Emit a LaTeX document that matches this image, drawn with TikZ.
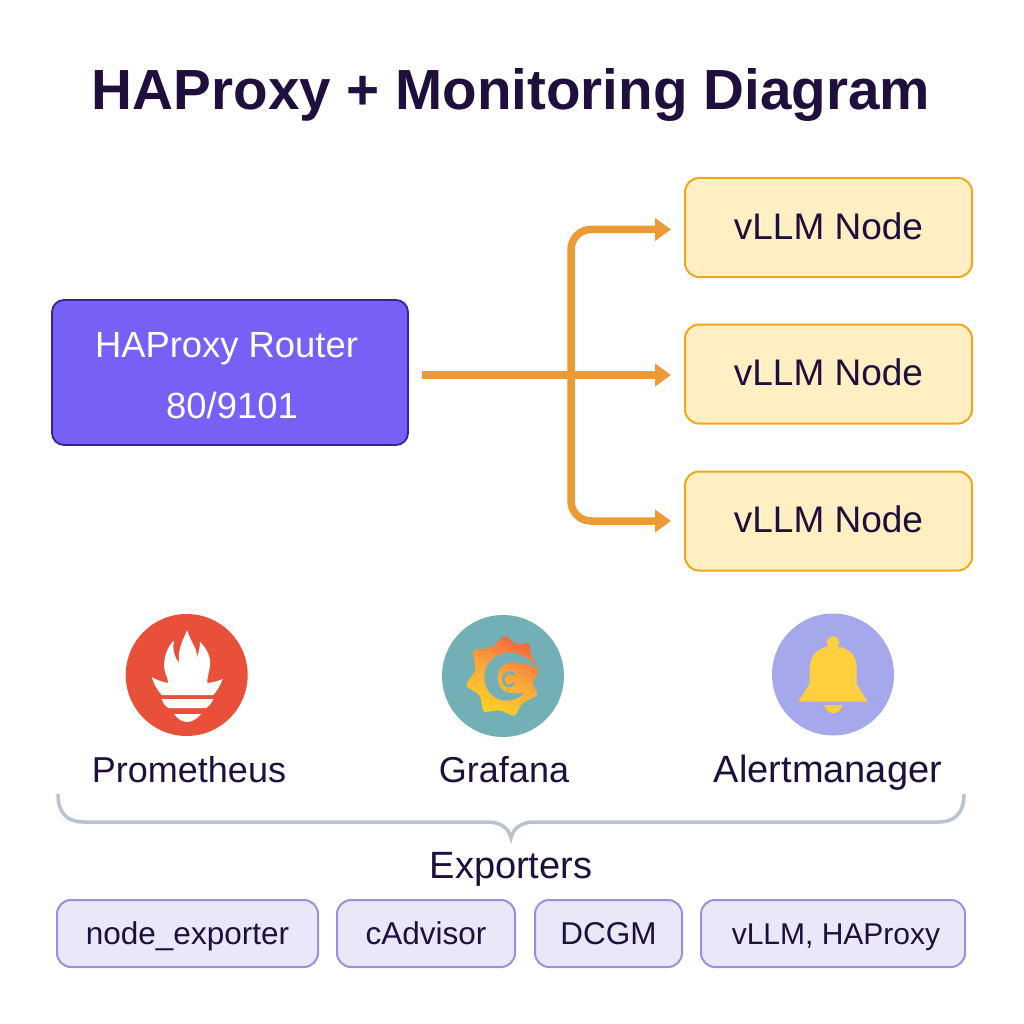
\documentclass[tikz,border=0pt]{standalone}
\usepackage{fontspec}
\setmainfont{Liberation Sans}
\usetikzlibrary{arrows.meta}
\definecolor{ink}{HTML}{1E0F3C}
\definecolor{routerfill}{HTML}{7660F5}
\definecolor{routeredge}{HTML}{3A1FA0}
\definecolor{nodefill}{HTML}{FFEFC2}
\definecolor{nodeedge}{HTML}{F0A818}
\definecolor{flow}{HTML}{EC9A35}
\definecolor{expfill}{HTML}{E9E7F8}
\definecolor{expedge}{HTML}{9D8FDF}
\definecolor{promc}{HTML}{E9503A}
\definecolor{grafc}{HTML}{72B0B5}
\definecolor{alertc}{HTML}{A6A8EC}
\definecolor{bellc}{HTML}{FFCF40}
\definecolor{bracec}{HTML}{B9C3CE}
\definecolor{sunA}{HTML}{F0683F}
\definecolor{sunM}{HTML}{FCA93A}
\definecolor{sunB}{HTML}{FFD225}
\tikzset{
  routerbox/.style={draw=routeredge,fill=routerfill,line width=1.8pt,rounded corners=12pt,
    minimum width=356pt,minimum height=145pt,text=white,align=center,inner sep=0pt,
    font=\fontsize{36.4}{61}\selectfont},
  llmbox/.style={draw=nodeedge,fill=nodefill,line width=2pt,rounded corners=14pt,
    minimum width=287pt,minimum height=99pt,text=ink,inner sep=0pt,text height=23.5pt,text depth=0pt,
    font=\fontsize{37}{44}\selectfont},
  expbox/.style={draw=expedge,fill=expfill,line width=2pt,rounded corners=14pt,
    minimum height=67pt,text=ink,inner sep=0pt,text height=22pt,text depth=0pt,
    font=\fontsize{31.5}{38}\selectfont},
  iconcircle/.style={circle,minimum size=122pt,inner sep=0pt},
  lbl/.style={anchor=base,text=ink,inner sep=0pt,font=\fontsize{36}{43}\selectfont},
  flowline/.style={draw=flow,line width=7.5pt,-{Triangle[length=16pt,width=22pt]},rounded corners=20pt},
}
\begin{document}
\begin{tikzpicture}[x=1pt,y=-1pt]
\useasboundingbox (0,0) rectangle (1024,1024);
\fill[white] (0,0) rectangle (1024,1024);
\node[anchor=base,text=ink,inner sep=0pt,font=\fontsize{56.6}{66}\selectfont\bfseries] (title) at (511,110) {HAProxy + Monitoring Diagram};
\node[routerbox] (router) at (230,372.5) {\rule{0pt}{30.5pt}HAProxy Router\hspace*{7pt}\\\hspace*{4pt}80/9101};
\node[llmbox] (n1) at (828.5,227.5) {vLLM Node};
\node[llmbox] (n2) at (828.5,374) {vLLM Node};
\node[llmbox] (n3) at (828.5,521) {vLLM Node};
\coordinate (hub) at (571,375);
\draw[flowline,shorten >=13pt] (hub) |- ([yshift=-2pt]n1.west);
\draw[flowline,shorten >=13pt] (hub) |- (n3.west);
\draw[flowline,shorten <=13pt,shorten >=13pt] ([yshift=-2.5pt]router.east) -- ([yshift=-1pt]n2.west);
% Prometheus
\node[iconcircle,fill=promc] (prom) at (186.7,675) {};
\fill[white] (187.3,630) .. controls (190,642) and (198,648) .. (196.7,658)
  .. controls (199,652) and (200,647) .. (200,641.7)
  .. controls (208,650) and (211,658) .. (210,666) .. controls (209,673) and (207,678) .. (207.3,683)
  -- (168.3,683) .. controls (168,677) and (163,672) .. (164.3,662)
  .. controls (165,653) and (169,645) .. (174,640.7)
  .. controls (172,650) and (175,658) .. (179.3,663.3)
  .. controls (177,650) and (183,640) .. (187.3,630) -- cycle;
\fill[white] (151.7,677) .. controls (160,682) and (168,683) .. (170,683) -- (205,683)
  .. controls (210,683) and (216,682) .. (222.7,679)
  .. controls (220,686) and (217,691) .. (213.3,695) -- (161.7,695)
  .. controls (157,690) and (154,684) .. (151.7,677) -- cycle;
\fill[white] (161.7,699) -- (213.3,699) .. controls (212,703) and (209,706) .. (206,708)
  -- (168.3,708) .. controls (165,706) and (163,703) .. (161.7,699) -- cycle;
\fill[white] (174,714) -- (201,714) .. controls (197,719) and (192,722) .. (187.3,722)
  .. controls (182,722) and (178,719) .. (174,714) -- cycle;
% Grafana
\node[iconcircle,fill=grafc] (graf) at (503,676) {};
\begin{scope}[shift={(430,605)},scale=1/3]
\shade[top color=sunA,bottom color=sunB,middle color=sunM,shading angle=-25,rounded corners=3pt]
  (127,135) -- (185,128) -- (225,90) -- (262,120) -- (298,112) -- (302,150) -- (328,195)
  -- (306,235) -- (325,270) -- (275,295) -- (255,335) -- (210,315) -- (160,322) -- (150,270)
  -- (105,242) -- (138,195) -- cycle;
\fill[grafc] (328,195) .. controls (300,160) and (270,143) .. (240,143)
  .. controls (195,143) and (163,175) .. (163,215)
  .. controls (163,260) and (195,287) .. (230,287)
  .. controls (250,287) and (270,278) .. (284,262)
  .. controls (268,266) and (250,266) .. (238,264)
  .. controls (215,260) and (203,240) .. (203,215)
  .. controls (203,190) and (222,172) .. (245,172)
  .. controls (275,172) and (305,180) .. (328,195) -- cycle;
\draw[grafc,line width=2.5pt,line cap=round] (254,207) .. controls (240,196) and (218,205) .. (220,225)
  .. controls (222,245) and (246,250) .. (250,234);
\end{scope}
% Alertmanager
\node[iconcircle,fill=alertc] (alert) at (833,674.5) {};
\begin{scope}[shift={(760,605)},scale=1/3]
\fill[bellc] (219,112) circle[radius=18];
\fill[bellc] (219,122) .. controls (175,125) and (150,150) .. (150,185)
  -- (148,238) -- (115,290) -- (323,290) -- (290,238) -- (290,185)
  .. controls (290,150) and (263,125) .. (219,122) -- cycle;
\fill[bellc] (192,300) -- (248,300) .. controls (240,318) and (230,325) .. (220,325)
  .. controls (210,325) and (200,318) .. (192,300) -- cycle;
\end{scope}
% labels
\node[lbl] (lp) at (189,782) {Prometheus};
\node[lbl] (lg) at (504,782) {Grafana};
\node[lbl,font=\fontsize{38}{45}\selectfont] (la) at (828,782) {Alertmanager};
% brace
\coordinate (bl) at (58,794);
\coordinate (br) at (964,794);
\coordinate (bt) at (511,838);
\draw[bracec,line width=3.5pt] (bl) .. controls (58,812) and (66,822) .. (84,822) -- (488,822)
  .. controls (500,822) and (509,828) .. (bt) .. controls (513,828) and (522,822) .. (534,822)
  -- (938,822) .. controls (956,822) and (964,812) .. (br);
\node[lbl,font=\fontsize{38}{45}\selectfont] (ex) at (511,878) {Exporters};
% exporter boxes
\node[expbox,minimum width=261pt] (e1) at (187.5,933.5) {node\_exporter};
\node[expbox,minimum width=178pt] (e2) at (426,933.5) {cAdvisor};
\node[expbox,minimum width=147pt] (e3) at (608.5,933.5) {DCGM};
\node[expbox,minimum width=264pt,font=\fontsize{30}{36}\selectfont] (e4) at (833,933.5) {\hspace*{6pt}vLLM, HAProxy};
\end{tikzpicture}
\end{document}
